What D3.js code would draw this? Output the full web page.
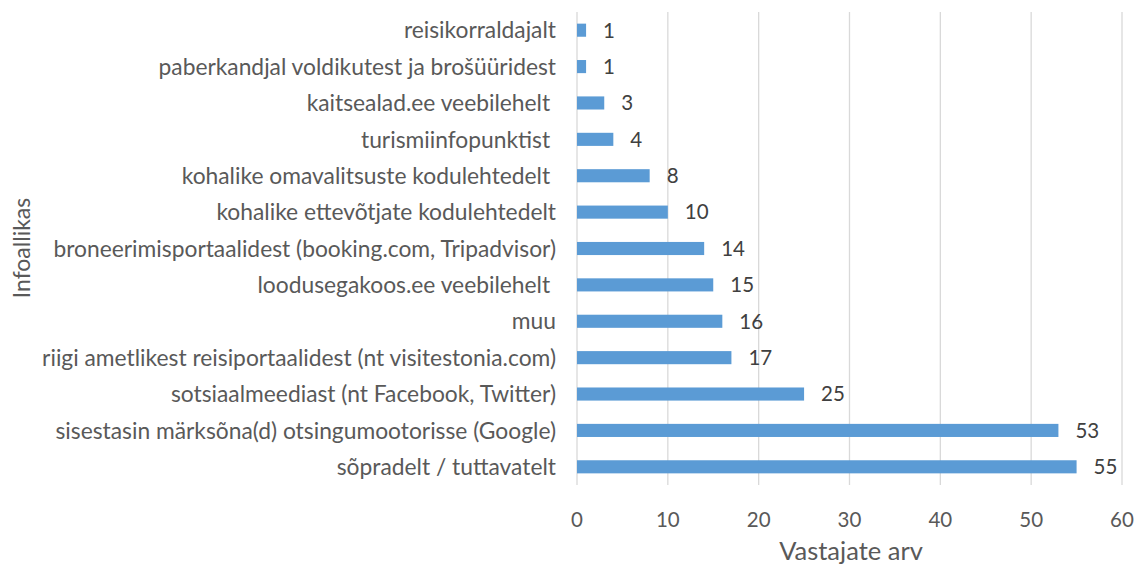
<!DOCTYPE html>
<html>
<head>
<meta charset="utf-8">
<script src="https://cdn.jsdelivr.net/npm/d3@7"></script>
<style>
  body { margin: 0; background: #fff; }
  text { font-family: Lato, "Open Sans", sans-serif; white-space: pre; }
</style>
</head>
<body>
<svg id="chart" width="1145" height="568"></svg>
<script>
// data, top to bottom as shown
const categories = [
  "reisikorraldajalt",
  "paberkandjal voldikutest ja brošüüridest",
  "kaitsealad.ee veebilehelt ",
  "turismiinfopunktist ",
  "kohalike omavalitsuste kodulehtedelt ",
  "kohalike ettevõtjate kodulehtedelt",
  "broneerimisportaalidest (booking.com, Tripadvisor)",
  "loodusegakoos.ee veebilehelt ",
  "muu",
  "riigi ametlikest reisiportaalidest (nt visitestonia.com)",
  "sotsiaalmeediast (nt Facebook, Twitter)",
  "sisestasin märksõna(d) otsingumootorisse (Google)",
  "sõpradelt / tuttavatelt"
];
const values = [1, 1, 3, 4, 8, 10, 14, 15, 16, 17, 25, 53, 55];
const xTicks = [0, 10, 20, 30, 40, 50, 60];
const xTitle = "Vastajate arv";
const yTitle = "Infoallikas";

const svg = d3.select("#chart");
const plotLeft = 577, plotRight = 1122, plotTop = 12, plotBottom = 485;

const x = d3.scaleLinear().domain([0, 60]).range([plotLeft, plotRight]);
const y = d3.scaleBand().domain(categories).range([plotTop, plotBottom]).paddingInner(0.64).paddingOuter(0.32);

// gridlines
svg.append("g").selectAll("line")
    .data(xTicks)
    .enter()
    .append("line")
    .attr("x1", d => x(d)).attr("x2", d => x(d))
    .attr("y1", plotTop).attr("y2", plotBottom)
    .attr("stroke", "#d9d9d9")
    .attr("stroke-width", 1.3);

// bars
svg.append("g").selectAll("rect")
    .data(values)
    .enter()
    .append("rect")
    .attr("x", x(0))
    .attr("y", (d, i) => y(categories[i]))
    .attr("width", d => x(d) - x(0))
    .attr("height", y.bandwidth())
    .attr("fill", "#5b9bd5");

// data labels
svg.append("g").selectAll("text")
    .data(values)
    .enter()
    .append("text")
    .attr("x", d => x(d) + 17)
    .attr("y", (d, i) => y(categories[i]) + y.bandwidth() / 2)
    .attr("dy", "0.36em")
    .attr("font-size", 20.5)
    .attr("fill", "#404040")
    .text(d => d);

// category labels
svg.append("g").selectAll("text")
    .data(categories)
    .enter()
    .append("text")
    .attr("x", 556)
    .attr("y", d => y(d) + y.bandwidth() / 2)
    .attr("dy", "0.36em")
    .attr("text-anchor", "end")
    .attr("font-size", 22.8)
    .attr("fill", "#595959")
    .text(d => d);

// x tick labels
svg.append("g").selectAll("text")
    .data(xTicks)
    .enter()
    .append("text")
    .attr("x", d => x(d))
    .attr("y", 520)
    .attr("dy", "0.36em")
    .attr("text-anchor", "middle")
    .attr("font-size", 20.5)
    .attr("fill", "#595959")
    .text(d => d);

svg.append("text")
    .attr("x", 851)
    .attr("y", 551)
    .attr("dy", "0.36em")
    .attr("text-anchor", "middle")
    .attr("font-size", 25.5)
    .attr("fill", "#595959")
    .text(xTitle);

svg.append("text")
    .attr("transform", "translate(22,248) rotate(-90)")
    .attr("dy", "0.36em")
    .attr("text-anchor", "middle")
    .attr("font-size", 23)
    .attr("fill", "#595959")
    .text(yTitle);
</script>
</body>
</html>
